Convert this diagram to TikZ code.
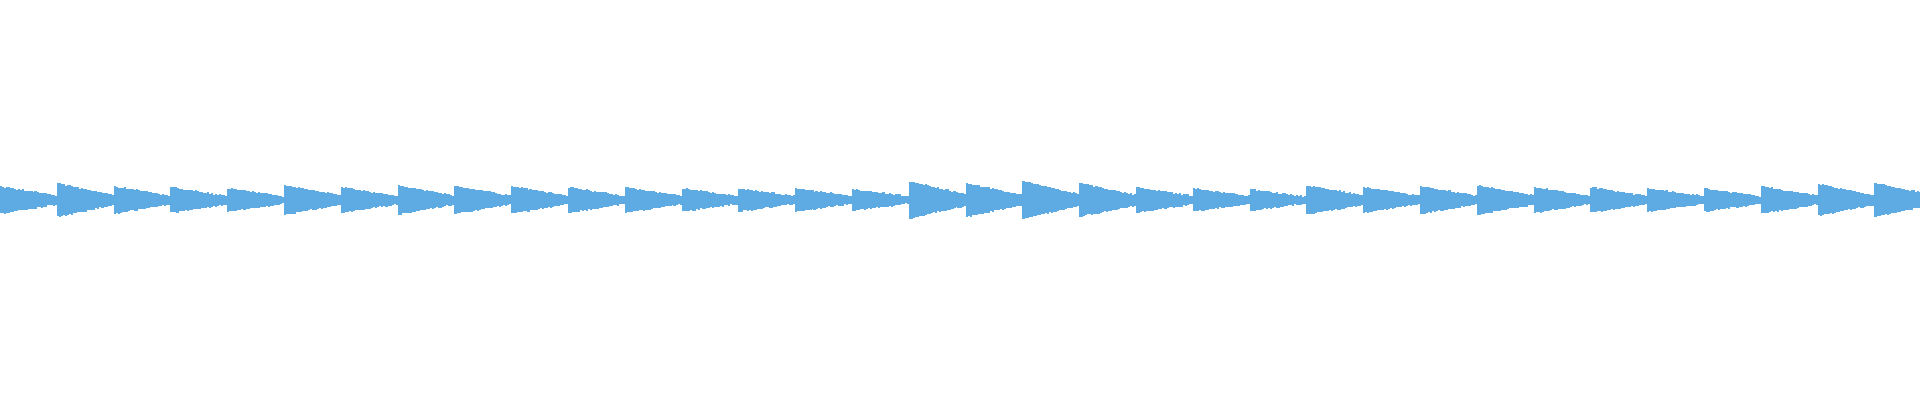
\documentclass[tikz,border=0pt]{standalone}
\begin{document}
\begin{tikzpicture}[x=0.05cm,y=-0.05cm]
\definecolor{wave}{RGB}{93,171,226}
\tikzset{bar/.style={fill=wave,draw=none}}
\useasboundingbox (0,0) rectangle (1920,400);
\pgfmathsetseed{7}
\foreach \A [count=\i from 0] in {13,16,13,12,11,14,12,14,13,13,12,12,11,11,11,10,18,16,18,16,12,11,10,14,12,13,14,12,12,11,11,13,15,16}{
  \pgfmathsetmacro{\xs}{\i*56.8}
  \foreach \k in {0,...,27}{
    \pgfmathsetmacro{\t}{\k/27}
    \pgfmathsetmacro{\amp}{\A*(1-0.7*\t)+1.5*rnd}
    \pgfmathsetmacro{\ampb}{\A*(1-0.7*\t)+1.5*rnd}
    \fill[bar] (\xs+\k*2.0286,200-\amp) rectangle (\xs+\k*2.0286+2.1,200+\ampb);
  }
}
\end{tikzpicture}
\end{document}
